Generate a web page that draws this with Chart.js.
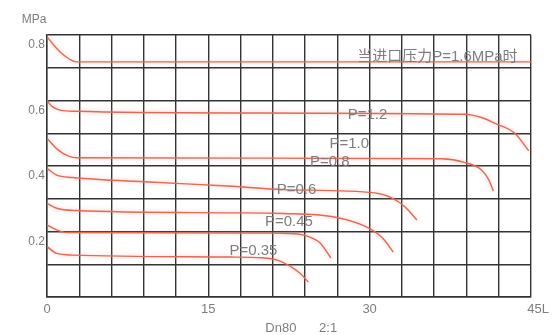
<!DOCTYPE html>
<html>
<head>
<meta charset="utf-8">
<script src="https://cdn.jsdelivr.net/npm/chart.js@4.4.1/dist/chart.umd.min.js"></script>
<style>
  html, body { margin: 0; padding: 0; background: #fff; }
  #wrap { width: 554px; height: 335px; }
</style>
</head>
<body>
<div id="wrap"><canvas id="curvas"></canvas></div>
<script>
// flujo (L) y presion de salida (MPa) de cada curva
const flujo16 = [0, 0.6, 1.35, 2.1, 2.7, 45];
const presion16 = [0.795, 0.77, 0.744, 0.726, 0.718, 0.718];

const flujo12 = [0, 0.45, 1.3, 2.7, 17, 38.8, 40.4, 41.6, 43.5, 44.8];
const presion12 = [0.6, 0.582, 0.57, 0.567, 0.562, 0.558, 0.548, 0.531, 0.5, 0.446];

const flujo10 = [0, 1, 2, 2.8, 20, 36.7, 38.8, 40.4, 41.1, 41.5];
const presion10 = [0.485, 0.45, 0.43, 0.425, 0.424, 0.422, 0.411, 0.388, 0.357, 0.324];

const flujo08 = [0, 0.9, 2.4, 9.5, 16.8, 22, 30.5, 32.1, 33.3, 34.4];
const presion08 = [0.393, 0.372, 0.365, 0.351, 0.339, 0.328, 0.318, 0.302, 0.275, 0.235];

const flujo06 = [0, 0.9, 2.7, 16.8, 22, 26.6, 29.7, 31.2, 32.2];
const presion06 = [0.286, 0.271, 0.264, 0.257, 0.255, 0.245, 0.214, 0.18, 0.137];

const flujo045 = [0, 0.9, 1.8, 20.5, 23, 24.2, 25.4, 26.4];
const presion045 = [0.22, 0.205, 0.197, 0.195, 0.193, 0.186, 0.165, 0.119];

const flujo035 = [0, 0.9, 2.4, 17, 20, 21.5, 22.6, 23.5, 24.3];
const presion035 = [0.154, 0.133, 0.128, 0.122, 0.12, 0.112, 0.094, 0.073, 0.046];

// etiquetas de las curvas (texto, flujo, presion)
const etiquetas = ["当进口压力P=1.6MPa时", "P=1.2", "P=1.0", "P=0.8", "P=0.6", "P=0.45", "P=0.35"];
const etiquetaX = [36.3, 29.8, 28.1, 26.3, 23.2, 22.5, 19.2];
const etiquetaY = [0.733, 0.556, 0.467, 0.412, 0.327, 0.229, 0.140];

// ticks
const ticksX = { 0: "0", 15: "15", 30: "30", 45: "    45L" };
const ticksY = { 2: "0.2", 4: "0.4", 6: "0.6", 8: "0.8" };

const curvas = [
  [flujo16, presion16], [flujo12, presion12], [flujo10, presion10],
  [flujo08, presion08], [flujo06, presion06], [flujo045, presion045], [flujo035, presion035]
];

function puntos(xs, ys) {
  return xs.map((x, i) => ({ x: x, y: ys[i] }));
}

const textos = {
  id: "textos",
  beforeDatasetsDraw(chart) {
    const ctx = chart.ctx;
    ctx.save();
    ctx.shadowColor = "rgba(240, 140, 120, 0.55)";
    ctx.shadowBlur = 4;
  },
  afterDatasetsDraw(chart) {
    const ctx = chart.ctx;
    ctx.restore();
    const sx = chart.scales.x;
    const sy = chart.scales.y;
    const area = chart.chartArea;

    ctx.save();
    ctx.fillStyle = "#7d7d7d";
    ctx.textAlign = "center";
    ctx.textBaseline = "middle";
    ctx.font = "15px 'Liberation Sans', 'Noto Sans CJK SC', sans-serif";
    etiquetas.forEach((t, i) => {
      ctx.fillText(t, sx.getPixelForValue(etiquetaX[i]), sy.getPixelForValue(etiquetaY[i]));
    });

    // unidades y titulo del eje
    ctx.font = "12px 'Liberation Sans', sans-serif";
    ctx.fillText("MPa", area.left - 13, area.top - 15);
    ctx.font = "13px 'Liberation Sans', sans-serif";
    ctx.textAlign = "left";
    ctx.fillText("Dn80", sx.getPixelForValue(20.3), area.bottom + 31);
    ctx.fillText("2:1", sx.getPixelForValue(25.3), area.bottom + 31);
    ctx.restore();
  }
};

new Chart(document.getElementById("curvas"), {
  type: "line",
  data: {
    datasets: curvas.map(c => ({
      data: puntos(c[0], c[1]),
      borderColor: "#df6a58",
      borderWidth: 1.4,
      pointRadius: 0,
      cubicInterpolationMode: "monotone",
      fill: false
    }))
  },
  options: {
    responsive: true,
    maintainAspectRatio: false,
    animation: false,
    events: [],
    layout: { padding: { top: 35, right: 17, left: 0, bottom: 0 } },
    plugins: { legend: { display: false }, tooltip: { enabled: false } },
    scales: {
      x: {
        type: "linear",
        min: 0,
        max: 45,
        afterFit: function (scale) { scale.height = 38; },
        grid: { color: "#333333", lineWidth: 1.4, drawTicks: false },
        border: { color: "#333333", width: 1.4 },
        ticks: {
          stepSize: 3,
          autoSkip: false,
          maxRotation: 0,
          padding: 5,
          color: "#7d7d7d",
          font: { family: "'Liberation Sans', sans-serif", size: 13 },
          callback: function (v) { return ticksX[v] !== undefined ? ticksX[v] : ""; }
        }
      },
      y: {
        type: "linear",
        min: 0,
        max: 0.8,
        afterFit: function (scale) { scale.width = 47; },
        grid: { color: "#333333", lineWidth: 1.4, drawTicks: false },
        border: { color: "#333333", width: 1.4 },
        ticks: {
          stepSize: 0.1,
          autoSkip: false,
          padding: 2,
          labelOffset: 10,
          color: "#7d7d7d",
          font: { family: "'Liberation Sans', sans-serif", size: 12 },
          callback: function (v) {
            const k = Math.round(v * 10);
            return ticksY[k] !== undefined ? ticksY[k] : "";
          }
        }
      }
    }
  },
  plugins: [textos]
});
</script>
</body>
</html>
